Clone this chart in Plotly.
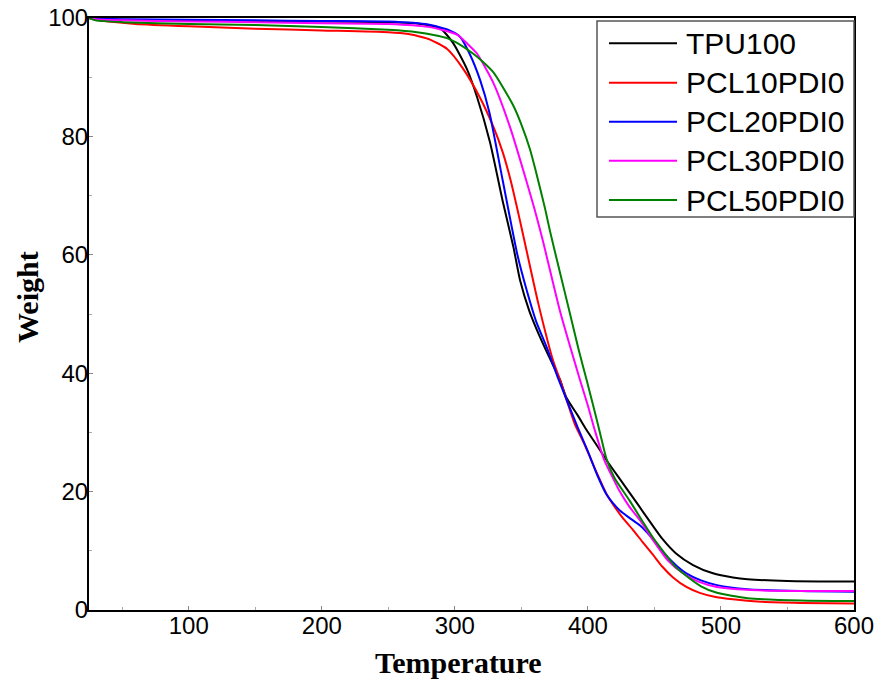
import plotly.graph_objects as go

# ---------------- data ----------------
series_names = ["TPU100", "PCL10PDI0", "PCL20PDI0", "PCL30PDI0", "PCL50PDI0"]
series_colors = ["#000000", "#ff0000", "#0000ff", "#ff00ff", "#008000"]

tpu100_x = [25, 30, 50, 100, 150, 200, 250, 270, 282, 289, 298.6, 309, 316.6, 326.4, 336, 344, 349, 356, 364, 372,
            379, 384, 392, 399, 407, 414, 425, 437, 447, 456, 466, 479, 494, 509, 520, 550, 600]
tpu100_y = [100, 99.8, 99.7, 99.6, 99.5, 99.4, 99.3, 99.1, 98.7, 98.3, 95.8, 91.4, 86.7, 79.0, 69.0, 61.3, 55.7, 50.5, 46.1, 42.2,
            38.9, 35.8, 33.0, 30.4, 27.7, 25.3, 21.8, 18.0, 14.8, 12.0, 9.6, 7.6, 6.2, 5.5, 5.2, 4.9, 4.8]

pcl10_x = [25, 30, 40, 60, 100, 150, 200, 250, 265, 275, 281, 294, 306, 319, 329, 336, 342, 348, 354, 363, 374, 379,
           390, 397, 405, 414, 419, 426, 434, 441, 449, 456, 464, 474, 484, 496, 509, 530, 560, 600]
pcl10_y = [100, 99.7, 99.4, 99.0, 98.6, 98.2, 97.9, 97.6, 97.3, 96.8, 96.4, 94.8, 91.5, 86.5, 81.6, 77.3, 72.5, 66.7, 60.6, 51.5, 42.0, 38.9,
           31.5, 28.2, 24.0, 19.6, 17.8, 15.6, 13.5, 11.5, 9.3, 7.3, 5.5, 3.9, 2.9, 2.2, 1.8, 1.4, 1.2, 1.1]

pcl20_x = [25, 30, 50, 100, 150, 200, 250, 280, 296, 304, 311, 319, 326, 336, 347, 354, 361, 369, 378, 392, 400,
           407, 414, 419, 424, 431, 439, 444, 449, 454, 460, 467, 474, 485, 497, 520, 560, 600]
pcl20_y = [100, 99.9, 99.8, 99.7, 99.6, 99.5, 99.4, 98.9, 97.9, 96.8, 94.0, 89.5, 84.0, 72.5, 60.0, 54.0, 48.8, 44.4, 38.9, 31.0, 26.8,
           22.8, 19.5, 18.0, 16.8, 15.6, 14.3, 13.2, 11.9, 10.4, 8.9, 7.4, 6.2, 5.0, 4.2, 3.5, 3.2, 3.1]

pcl30_x = [25, 30, 50, 100, 150, 200, 250, 280, 301.6, 311, 316.6, 329, 341.4, 354, 360, 366, 379, 394, 400, 405,
           412, 419, 424, 431, 439, 449, 460, 471.5, 483, 497, 520, 560, 600]
pcl30_y = [100, 99.8, 99.6, 99.4, 99.3, 99.1, 99.0, 98.5, 97.2, 95.3, 94.0, 89.0, 81.6, 72.3, 67.6, 62.5, 50.5, 38.9, 34.5, 30.5,
           25.5, 22.2, 20.0, 17.5, 15.2, 11.8, 8.4, 6.2, 4.8, 3.9, 3.4, 3.2, 3.2]

pcl50_x = [25, 30, 50, 100, 150, 200, 250, 271.5, 285, 294, 301.6, 313.6, 321, 329, 343.7, 350, 356.5, 361, 367.8, 371.5, 379,
           386.5, 393, 399, 404, 409, 414, 420, 431, 441, 449, 458, 465, 471.5, 485, 497, 520, 560, 600]
pcl50_y = [100, 99.6, 99.3, 99.0, 98.8, 98.5, 98.0, 97.6, 97.1, 96.6, 95.8, 94.0, 92.6, 90.8, 85.3, 82.0, 77.8, 74.0, 67.8, 64.0, 57.0,
           50.1, 44.0, 38.9, 34.5, 30.0, 25.5, 22.3, 18.6, 15.0, 12.2, 9.5, 7.5, 6.2, 4.0, 2.9, 2.0, 1.6, 1.5]

series_x = [tpu100_x, pcl10_x, pcl20_x, pcl30_x, pcl50_x]
series_y = [tpu100_y, pcl10_y, pcl20_y, pcl30_y, pcl50_y]

x_tickvals = [100, 200, 300, 400, 500, 600]
y_tickvals = [0, 20, 40, 60, 80, 100]
x_title = "Temperature"
y_title = "Weight"

# ---------------- layout geometry ----------------
# body margin is removed by a post_script, so the figure sits at (0, 0)
OFF = 0
W, H = 881, 683
ML, MR, MT, MB = 89, 27, 18, 73
PW, PH = W - ML - MR, H - MT - MB

fig = go.Figure()
for name, color, xs, ys in zip(series_names, series_colors, series_x, series_y):
    fig.add_trace(go.Scatter(x=xs, y=ys, mode="lines", name=name,
                             line=dict(color=color, width=2, shape="spline", smoothing=0.6),
                             showlegend=False))

def px2paper(px, py):
    # px, py are screen pixels of the final picture
    return (px - OFF - ML) / PW, (H - MB - (py - OFF)) / PH

# custom legend (box + line samples + labels)
bx0, by0 = px2paper(597, 217)
bx1, by1 = px2paper(854, 21)
shapes = [dict(type="rect", xref="paper", yref="paper", x0=bx0, y0=by0, x1=bx1, y1=by1,
               line=dict(color="#555555", width=1.5), fillcolor="white", layer="above")]
annotations = []
row_y = [43.3, 82.7, 121.7, 160.7, 200]
for i, (name, color) in enumerate(zip(series_names, series_colors)):
    lx0, ly = px2paper(609, row_y[i])
    lx1, _ = px2paper(677, row_y[i])
    shapes.append(dict(type="line", xref="paper", yref="paper", x0=lx0, x1=lx1, y0=ly, y1=ly,
                       line=dict(color=color, width=2), layer="above"))
    tx, _ = px2paper(684, row_y[i])
    annotations.append(dict(xref="paper", yref="paper", x=tx, y=ly, text=name, showarrow=False,
                            xanchor="left", yanchor="middle",
                            font=dict(family="Liberation Sans, Arial", size=30, color="black")))

# axis titles
ax, ay = px2paper(458, 662)
annotations.append(dict(xref="paper", yref="paper", x=ax, y=ay, text=x_title, showarrow=False,
                        xanchor="center", yanchor="middle",
                        font=dict(family="Liberation Serif, Times New Roman", size=30, color="black",
                                  weight="bold")))
ax, ay = px2paper(27, 297)
annotations.append(dict(xref="paper", yref="paper", x=ax, y=ay, text=y_title, showarrow=False,
                        textangle=-90, xanchor="center", yanchor="middle",
                        font=dict(family="Liberation Serif, Times New Roman", size=30, color="black",
                                  weight="bold")))

fig.update_layout(
    width=W, height=H, autosize=False,
    margin=dict(l=ML, r=MR, t=MT, b=MB),
    paper_bgcolor="white", plot_bgcolor="white",
    shapes=shapes, annotations=annotations,
    font=dict(family="Liberation Sans, Arial", color="black"),
)
fig.update_xaxes(range=[25, 600], tickvals=x_tickvals, showgrid=False, zeroline=False, automargin=False,
                 showline=True, linecolor="black", linewidth=2, mirror=True,
                 ticks="inside", ticklen=4, tickcolor="#888888", ticklabelstandoff=-7,
                 ticklabeloverflow="allow",
                 minor=dict(dtick=50, ticks="inside", ticklen=3, tickcolor="#aaaaaa"),
                 tickfont=dict(size=24, family="Liberation Sans, Arial"))
fig.update_yaxes(range=[0, 100], tickvals=y_tickvals, showgrid=False, zeroline=False, automargin=False,
                 showline=True, linecolor="black", linewidth=2, mirror=True,
                 ticks="inside", ticklen=4, tickcolor="#888888", ticklabelstandoff=-6,
                 ticklabeloverflow="allow",
                 minor=dict(dtick=10, ticks="inside", ticklen=3, tickcolor="#aaaaaa"),
                 tickfont=dict(size=24, family="Liberation Sans, Arial"))

fig.write_html("out.html", config={"displayModeBar": False},
               post_script="document.body.style.margin='0';")
